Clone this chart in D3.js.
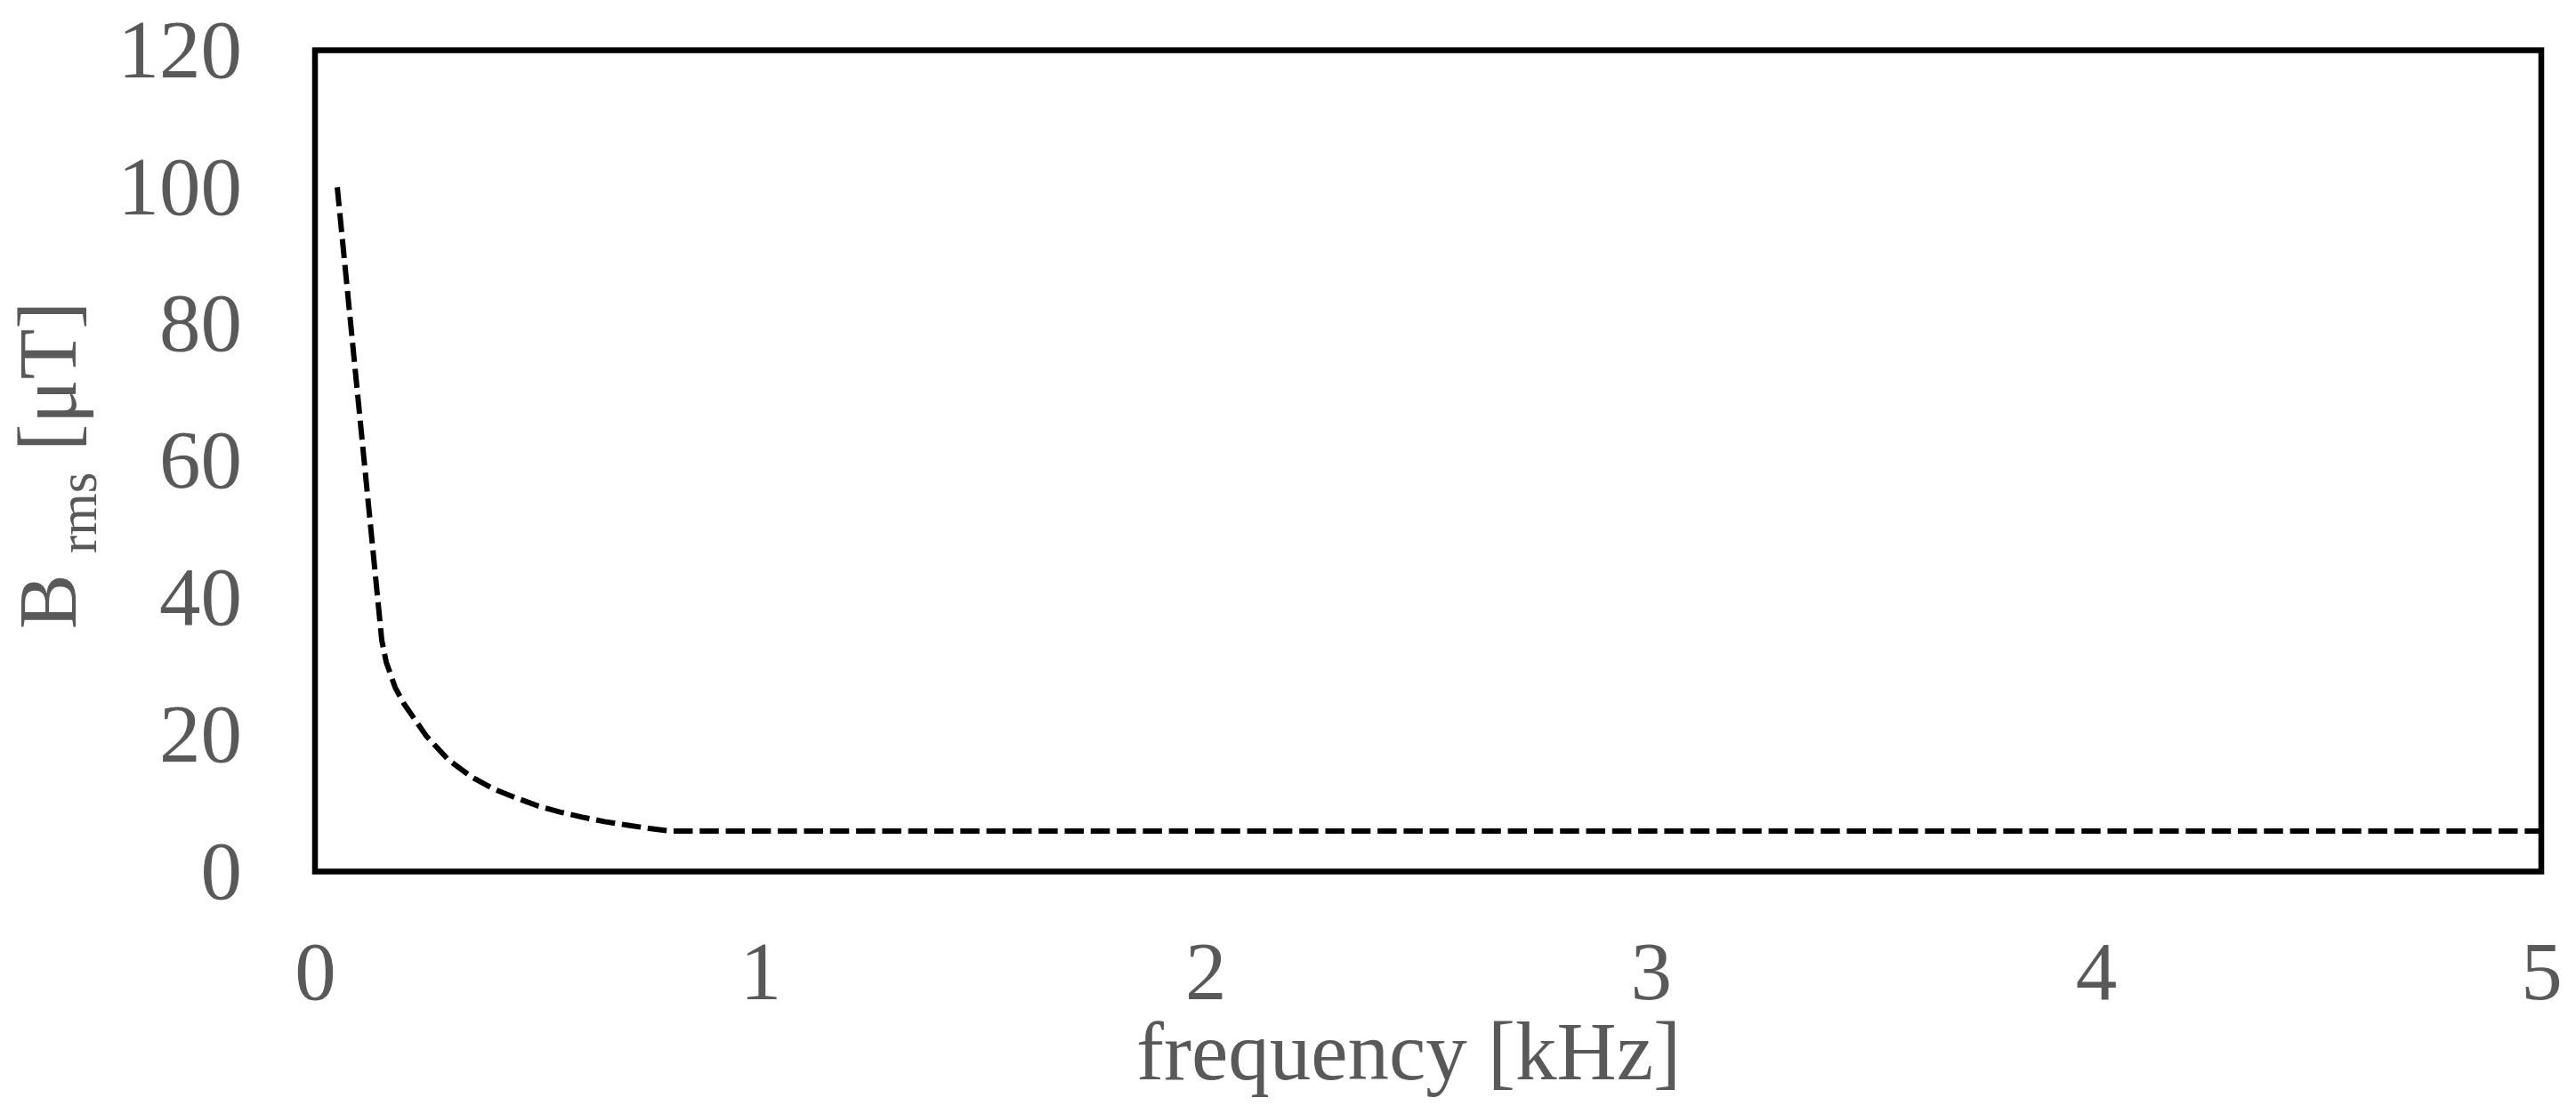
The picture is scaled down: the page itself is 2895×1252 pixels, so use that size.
<!DOCTYPE html>
<html>
<head>
<meta charset="utf-8">
<script src="https://cdn.jsdelivr.net/npm/d3@7"></script>
<style>
  html, body { margin: 0; padding: 0; background: #fff; }
  svg { display: block; }
</style>
</head>
<body>
<div id="chart"></div>
<script>
// frequency in kHz and B_rms in uT
var frequency = [0.05, 0.15, 0.16, 0.18, 0.2, 0.25, 0.3, 0.35, 0.4, 0.45, 0.5, 0.55, 0.6, 0.65, 0.7, 0.75, 0.8, 5.0];
var bRms = [100, 33.8, 30.6, 26.9, 24.5, 19.8, 16.3, 13.9, 12.1, 10.8, 9.6, 8.7, 7.95, 7.3, 6.8, 6.3, 5.9, 5.9];

var xTicks = [0, 1, 2, 3, 4, 5];
var yTicks = [0, 20, 40, 60, 80, 100, 120];

var width = 2895, height = 1252;
// plot frame edges (note: "top" is a reserved window global, so use other names)
var plotLeft = 354, plotRight = 2856, plotTop = 56.5, plotBottom = 979.5;
var textColor = "#595959";
var fontFamily = "'Liberation Serif', 'Times New Roman', serif";

var svg = d3.select("#chart").append("svg")
    .attr("width", width)
    .attr("height", height);

var x = d3.scaleLinear().domain([0, 5]).range([plotLeft, plotRight]);
var y = d3.scaleLinear().domain([0, 120]).range([plotBottom, plotTop]);

// y axis labels
var yAxis = svg.append("g")
    .attr("transform", "translate(" + plotLeft + ",0)")
    .call(d3.axisLeft(y).tickValues(yTicks).tickSize(0).tickPadding(82));
yAxis.select(".domain").remove();
yAxis.selectAll("text")
    .attr("fill", textColor)
    .style("font-family", fontFamily)
    .style("font-size", "93px");

// x axis labels
var xAxis = svg.append("g")
    .attr("transform", "translate(0," + plotBottom + ")")
    .call(d3.axisBottom(x).tickValues(xTicks).tickSize(0).tickPadding(77).tickFormat(d3.format("d")));
xAxis.select(".domain").remove();
xAxis.selectAll("text")
    .attr("fill", textColor)
    .style("font-family", fontFamily)
    .style("font-size", "93px");

// the curve
var points = frequency.map(function(f, i) { return [f, bRms[i]]; });
var line = d3.line()
    .x(function(d) { return x(d[0]); })
    .y(function(d) { return y(d[1]); });

svg.append("path")
    .datum(points)
    .attr("d", line)
    .attr("fill", "none")
    .attr("stroke", "#000")
    .attr("stroke-width", 6)
    .attr("stroke-dasharray", "21.5,7.8");

// plot frame
svg.append("rect")
    .attr("x", plotLeft)
    .attr("y", plotTop)
    .attr("width", plotRight - plotLeft)
    .attr("height", plotBottom - plotTop)
    .attr("fill", "none")
    .attr("stroke", "#000")
    .attr("stroke-width", 6.5);

// axis titles
svg.append("text")
    .attr("x", 1583)
    .attr("y", 1213)
    .attr("text-anchor", "middle")
    .attr("fill", textColor)
    .style("font-family", fontFamily)
    .style("font-size", "93px")
    .text("frequency [kHz]");

var yTitle = svg.append("text")
    .attr("transform", "translate(85,523) rotate(-90)")
    .attr("text-anchor", "middle")
    .attr("fill", textColor)
    .style("font-family", fontFamily)
    .style("font-size", "93px");
yTitle.append("tspan").text("B ");
yTitle.append("tspan")
    .attr("dy", 23)
    .style("font-size", "61px")
    .text("rms");
yTitle.append("tspan")
    .attr("dy", -23)
    .text(" [\u03bcT]");
</script>
</body>
</html>
